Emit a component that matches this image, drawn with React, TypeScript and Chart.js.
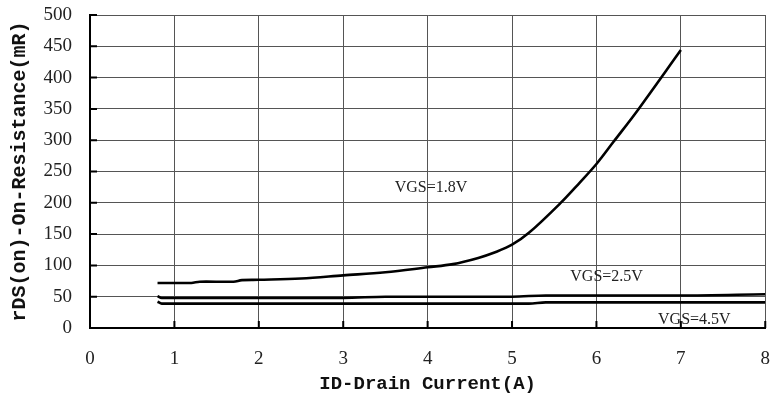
import React, { useEffect, useRef } from "react";
import { Chart, registerables } from "chart.js";

Chart.register(...registerables);

const vgs18X = [0.8, 1.2, 1.3, 1.7, 1.8, 2.0, 2.5, 3.0, 3.5, 4.0, 4.3, 4.6, 4.8, 5.0, 5.2, 5.57, 5.8, 6.0, 6.2, 6.5, 7.0];
const vgs18Y = [72, 72, 74, 74, 76.5, 77, 79, 84, 89, 97, 102, 112, 121, 133, 152, 199, 232, 262, 297, 350, 444];

const vgs25X = [0.8, 0.85, 3.0, 3.5, 5.0, 5.4, 7.0, 8.0];
const vgs25Y = [51, 48, 48, 50, 50, 52, 52, 54];

const vgs45X = [0.8, 0.85, 5.2, 5.4, 8.0];
const vgs45Y = [42, 39, 39, 41, 41];

const seriesNames = ["VGS=1.8V", "VGS=2.5V", "VGS=4.5V"];
const labelX = [3.61, 5.69, 6.73];
const labelY = [224, 81, 13];

const xTicks = [0, 1, 2, 3, 4, 5, 6, 7, 8];
const yTicks = [0, 50, 100, 150, 200, 250, 300, 350, 400, 450, 500];

const toPts = (xs: number[], ys: number[]) => xs.map((x, i) => ({ x, y: ys[i] }));

const labelPlugin = {
  id: "seriesLabels",
  afterDatasetsDraw(chart: any) {
    const { ctx, scales } = chart;
    ctx.save();
    ctx.font = '16px "Liberation Serif"';
    ctx.fillStyle = "#222";
    ctx.textBaseline = "middle";
    ctx.textAlign = "left";
    seriesNames.forEach((t, i) => {
      ctx.fillText(t, scales.x.getPixelForValue(labelX[i]), scales.y.getPixelForValue(labelY[i]));
    });
    ctx.restore();
  },
};

const innerTicks = {
  id: "innerTicks",
  afterDraw(chart: any) {
    const { ctx, scales, chartArea } = chart;
    ctx.save();
    ctx.strokeStyle = "#000";
    ctx.lineWidth = 2;
    ctx.beginPath();
    yTicks.forEach((v) => {
      const py = scales.y.getPixelForValue(v);
      ctx.moveTo(chartArea.left, py);
      ctx.lineTo(chartArea.left + 7, py);
    });
    xTicks.forEach((v) => {
      const px = scales.x.getPixelForValue(v);
      ctx.moveTo(px, chartArea.bottom);
      ctx.lineTo(px, chartArea.bottom - 7);
    });
    ctx.stroke();
    ctx.restore();
  },
};

export default function App() {
  const ref = useRef<HTMLCanvasElement | null>(null);
  useEffect(() => {
    if (!ref.current) return;
    const lineStyle = {
      borderColor: "#000",
      borderWidth: 2.6,
      pointRadius: 0,
      fill: false,
      cubicInterpolationMode: "monotone" as const,
    };
    const chart = new Chart(ref.current, {
      type: "line",
      data: {
        datasets: [
          {
            label: seriesNames[0],
            data: toPts(vgs18X, vgs18Y),
            ...lineStyle,
            cubicInterpolationMode: "default" as const,
            tension: 0.35,
          },
          { label: seriesNames[1], data: toPts(vgs25X, vgs25Y), ...lineStyle },
          { label: seriesNames[2], data: toPts(vgs45X, vgs45Y), ...lineStyle },
        ],
      },
      options: {
        animation: false,
        responsive: true,
        maintainAspectRatio: false,
        layout: { padding: { left: 0, top: 15, right: 4, bottom: 0 } },
        plugins: { legend: { display: false }, tooltip: { enabled: false } },
        scales: {
          x: {
            type: "linear",
            min: 0,
            max: 8,
            afterFit: (s: any) => {
              s.height = 79;
            },
            afterBuildTicks: (s: any) => {
              s.ticks = xTicks.map((v) => ({ value: v }));
            },
            grid: { color: "#555", lineWidth: 1, drawTicks: true, tickLength: 20, tickColor: "rgba(0,0,0,0)" },
            border: { color: "#000", width: 2 },
            ticks: {
              padding: 0,
              color: "#222",
              font: { family: "Liberation Serif", size: 19 },
            },
            title: {
              display: true,
              text: "ID-Drain Current(A)",
              color: "#111",
              font: { family: "Liberation Mono", size: 19, weight: "bold" },
              padding: { top: 0, bottom: 11 },
            },
          },
          y: {
            type: "linear",
            min: 0,
            max: 500,
            afterFit: (s: any) => {
              s.width = 90;
            },
            afterBuildTicks: (s: any) => {
              s.ticks = yTicks.map((v) => ({ value: v }));
            },
            grid: { color: "#555", lineWidth: 1, drawTicks: true, tickLength: 18, tickColor: "rgba(0,0,0,0)" },
            border: { color: "#000", width: 2 },
            ticks: {
              padding: 0,
              color: "#222",
              font: { family: "Liberation Serif", size: 19 },
            },
            title: {
              display: true,
              text: "rDS(on)-On-Resistance(mR)",
              color: "#111",
              font: { family: "Liberation Mono", size: 20, weight: "bold" },
              padding: { top: 8, bottom: 0 },
            },
          },
        },
      },
      plugins: [labelPlugin, innerTicks],
    });
    return () => chart.destroy();
  }, []);
  return (
    <div style={{ position: "fixed", left: 0, top: 0, width: 770, height: 407, background: "#fff" }}>
      <canvas ref={ref} />
    </div>
  );
}
